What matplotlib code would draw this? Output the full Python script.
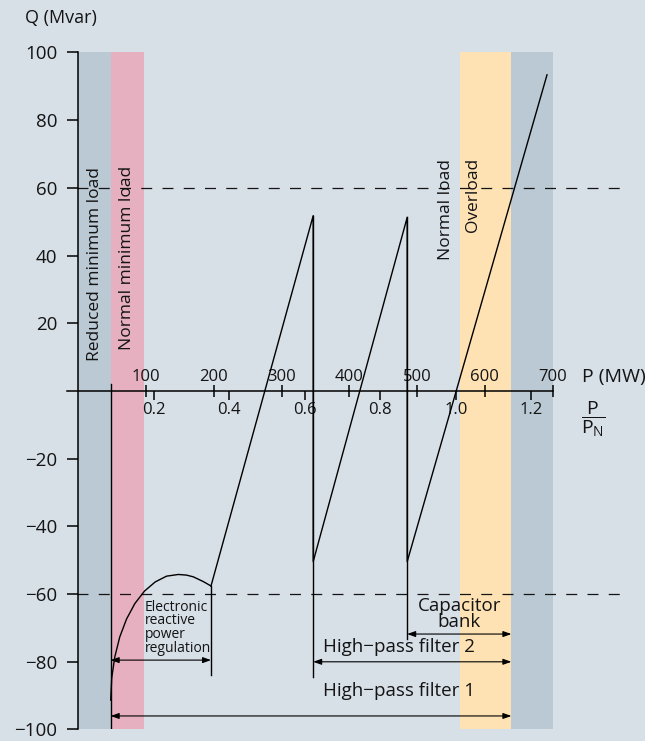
import matplotlib
matplotlib.use("Agg")
import matplotlib.pyplot as plt

# Schriften
plt.rcParams['font.family'] = ['Open Sans', 'DejaVu Sans']
plt.rcParams['mathtext.fontset'] = 'custom'
plt.rcParams['mathtext.rm'] = 'Open Sans'
plt.rcParams['mathtext.it'] = 'Open Sans'

# Daten (P in MW, Q in Mvar)
PN = 557  # MW bei P/PN = 1.0

# Elektronische Blindleistungsregelung (gebogener Teil)
p_reg = [47.8, 49.3, 53.8, 61.1, 71.1, 83.4, 97.7, 113.5, 130.2, 147.6,
         159.9, 169.7, 184.4, 195.8]
q_reg = [-91.3, -84.8, -78.6, -72.7, -67.4, -62.8, -59.1, -56.4, -54.7, -54.2,
         -54.4, -54.9, -56.3, -57.6]

# Sägezahn der Filter / Kondensatorbank
p_saw = [195.8, 346.6, 346.6, 485.3, 485.3, 691.6]
q_saw = [-57.6, 51.8, -50.4, 51.3, -50.4, 93.4]

# Senkrechte Schaltlinien: (P, Q oben, Q unten)
switch_p = [47.8, 195.8, 346.6, 485.3]
switch_top = [2, -57.6, 51.8, 51.3]
switch_bot = [-99.5, -84.0, -84.4, -73.3]

# Bereiche
bands = [(0, 47.8, '#bac9d3'), (47.8, 97, '#e6b0c0'),
         (563.8, 639, '#fee2b3'), (639, 701, '#bac9d3')]
band_text = ["Reduced minimum load", "Normal minimum load", "Normal load", "Overload"]
band_text_p = [24.6, 72.0, 542.5, 582.5]
band_text_q = [9.0, 12.0, 38.7, 47.0]

# Pfeile: (von, bis, Q)
arrows = [(47.8, 195.8, -79.5), (346.6, 639, -80.0),
          (485.3, 639, -71.8), (47.8, 639, -96.0)]

q_ticks = [-100, -80, -60, -40, -20, 20, 40, 60, 80, 100]
p_ticks = [100, 200, 300, 400, 500, 600, 700]
pu_ticks = [0.2, 0.4, 0.6, 0.8, 1.0, 1.2]

bg = '#d7dfe7'
txt = '#141414'

fig = plt.figure(figsize=(6.45, 7.41), dpi=100, facecolor=bg)
ax = fig.add_axes([0.10039, 0.01552, 0.89311, 0.91363], facecolor=bg)
ax.set_xlim(-20, 830)
ax.set_ylim(-100, 100)

for x0, x1, c in bands:
    ax.axvspan(x0, x1, color=c, lw=0, zorder=0)

for s, x, y in zip(band_text, band_text_p, band_text_q):
    ax.text(x, y, s, rotation=90, ha='center', va='bottom', fontsize=12.5, color=txt)

# gestrichelte Grenzen +-60 Mvar
for q in (60, -60):
    ax.plot([-1.5, 800.8], [q, q], color=txt, lw=0.9,
            dashes=(7.9 / 0.9, 7.4 / 0.9), zorder=2)

ax.plot(p_reg, q_reg, color='black', lw=1.0, zorder=3)
ax.plot(p_saw, q_saw, color='black', lw=1.0, zorder=3)
for x, y0, y1 in zip(switch_p, switch_top, switch_bot):
    ax.plot([x, x], [y0, y1], color='black', lw=1.0, zorder=3)

for x0, x1, y in arrows:
    ax.annotate('', xy=(x1, y), xytext=(x0, y),
                arrowprops=dict(arrowstyle='<|-|>,head_length=0.7,head_width=0.25',
                                color='black', lw=0.8, shrinkA=0, shrinkB=0,
                                mutation_scale=7), zorder=4)

ax.text(97.5, -61.6, "Electronic\nreactive\npower\nregulation", ha='left', va='top',
        fontsize=10, linespacing=0.9, color=txt)
ax.text(562, -61.0, "Capacitor\nbank", ha='center', va='top', fontsize=13.5,
        linespacing=0.85, color=txt)
ax.text(473, -75.6, "High\u2212pass filter 2", ha='center', va='center', fontsize=13.5, color=txt)
ax.text(473, -88.5, "High\u2212pass filter 1", ha='center', va='center', fontsize=13.5, color=txt)

# Achsen
ax.spines['right'].set_visible(False)
ax.spines['bottom'].set_visible(False)
ax.spines['left'].set_position(('data', 0))
ax.spines['left'].set_bounds(-100, 100)
ax.spines['top'].set_position(('data', 0))
ax.spines['top'].set_bounds(-16, 700)
for sp in ('left', 'top'):
    ax.spines[sp].set_linewidth(1.1)
    ax.spines[sp].set_zorder(5)

ax.set_yticks(q_ticks)
ax.tick_params(axis='y', direction='out', length=7.7, width=1.1, pad=7.5,
               labelsize=13.5, labelcolor=txt)

ax.xaxis.set_ticks_position('top')
ax.set_xticks(p_ticks)
ax.tick_params(axis='x', direction='inout', length=9, width=1.1, pad=0,
               labelsize=12, labelcolor=txt)

sec = ax.secondary_xaxis(0.5, functions=(lambda x: x / PN, lambda p: p * PN))
sec.set_alignment('bottom')
sec.spines['bottom'].set_visible(False)
sec.set_xticks(pu_ticks)
sec.set_xticklabels([f"{v:.1f}" for v in pu_ticks])
sec.tick_params(axis='x', direction='out', length=6.3, width=1.1, pad=1.5,
                labelsize=12, labelcolor=txt)

ax.text(-78.6, 108.6, "Q (Mvar)", ha='left', va='baseline', fontsize=13, color=txt)
ax.text(743, 2.75, "P (MW)", ha='left', va='baseline', fontsize=14, color=txt)
ax.text(759.4, -8.3, r"$\dfrac{\mathrm{P}}{\mathrm{P_N}}$", ha='center', va='center',
        fontsize=14, color=txt)

fig.savefig("out.png", dpi=100, facecolor=bg)
